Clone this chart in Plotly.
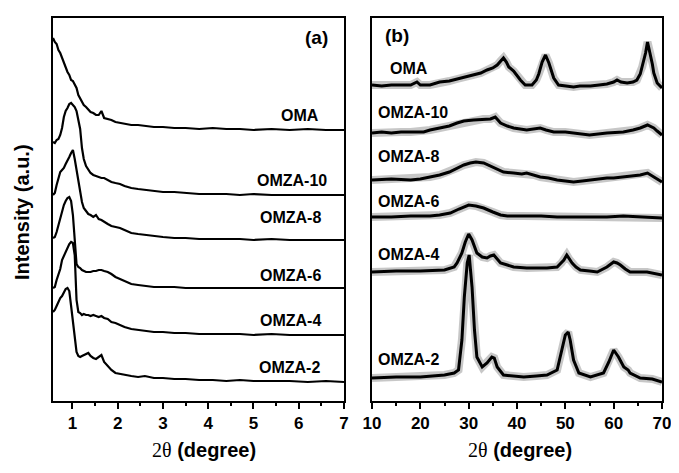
import plotly.graph_objects as go

# sample names (top to bottom)
names = ["OMA", "OMZA-10", "OMZA-8", "OMZA-6", "OMZA-4", "OMZA-2"]

# ---- panel (a): low angle XRD ----
xa = [0.57, 0.61, 0.65, 0.69, 0.73, 0.77, 0.81, 0.85, 0.89, 0.93,
      0.97, 1.01, 1.05, 1.09, 1.13, 1.17, 1.21, 1.25, 1.30, 1.35,
      1.40, 1.46, 1.52, 1.58, 1.64, 1.70, 1.78, 1.86, 1.95, 2.05,
      2.15, 2.3, 2.45, 2.6, 2.8, 3.0, 3.25, 3.5, 3.8, 4.1,
      4.4, 4.7, 5.0, 5.4, 5.8, 6.2, 6.6, 7.0]

oma_a = [92, 88, 86, 80, 77, 72, 68, 63, 58, 55,
         50, 49, 46, 42, 35, 32, 29, 25, 23, 20,
         18, 17, 15, 15, 19, 12, 11, 10, 8, 7,
         6, 5, 5, 4, 3, 3, 2, 2, 1, 2,
         1, 1, 0, 1, 0, 1, 0, 0]
omza10_a = [53, 52, 55, 56, 60, 67, 78, 84, 87, 91,
            92, 90, 88, 84, 75, 66, 47, 36, 29, 25,
            22, 20, 19, 18, 17, 17, 15, 13, 12, 11,
            9, 7, 6, 5, 4, 3, 3, 2, 1, 1,
            1, 0, 1, 0, 0, 0, 0, 0]
omza8_a = [45, 47, 55, 62, 68, 70, 72, 76, 79, 83,
           87, 90, 81, 70, 60, 48, 38, 32, 29, 26,
           25, 23, 25, 21, 20, 18, 16, 14, 13, 12,
           10, 7, 6, 5, 4, 3, 2, 2, 1, 1,
           1, 1, 0, 1, 0, 0, 0, 0]
omza6_a = [50, 51, 56, 63, 70, 77, 83, 87, 90, 91,
           87, 73, 43, 24, 21, 20, 18, 17, 16, 16,
           16, 17, 17, 18, 18, 17, 16, 14, 11, 9,
           7, 4, 3, 2, 1, 1, 1, 0, 0, 0,
           0, 0, 0, 0, 0, 0, 0, 0]
omza4_a = [47, 48, 55, 61, 66, 75, 79, 84, 87, 91,
           93, 92, 80, 35, 23, 22, 20, 21, 20, 20,
           19, 20, 19, 18, 19, 17, 16, 13, 12, 10,
           8, 6, 5, 4, 3, 3, 2, 2, 1, 1,
           1, 1, 0, 1, 0, 0, 0, 0]
omza2_a = [70, 72, 76, 80, 84, 86, 89, 93, 94, 91,
           76, 60, 45, 30, 26, 25, 26, 27, 28, 29,
           26, 24, 23, 25, 27, 20, 16, 12, 9, 8,
           7, 6, 5, 6, 4, 4, 3, 3, 2, 2,
           1, 2, 1, 1, 1, 0, 1, 0]
offsets_a = [271, 206, 161, 113, 66, 19]

# ---- panel (b): wide angle XRD ----
oma_bx = [10, 12, 14, 16, 18, 19.3, 20, 22, 24, 26, 27.6, 29, 31, 32.5, 33.8,
          35, 35.9, 36.6, 37.2, 37.8, 38.3, 39.3, 40, 40.7, 41.7, 43.1, 44, 44.5,
          45.2, 45.9, 46.6, 47.2, 47.6, 48.6, 50, 51.7, 53, 55.2, 57, 58.6, 60,
          60.7, 61.5, 62.8, 64, 64.8, 65.5, 65.9, 66.3, 66.6, 67, 67.3, 67.6, 68,
          68.3, 69, 70]
oma_b = [1, 0, 1, 1, 1, 4, 1, 1, 4, 5, 7, 8, 11, 13, 16,
         18, 21, 25, 28, 24, 19, 15, 10, 6, 1, 1, 6, 12,
         24, 31, 23, 13, 8, 1, 0, -1, 0, 0, 1, 2, 4,
         6, 4, 3, 4, 6, 12, 19, 27, 33, 44, 38, 32, 22,
         13, 3, -2]
omza10_bx = [10, 12, 14, 16, 18, 20.7, 22, 24, 26, 27.6, 29, 31, 33, 34.5, 35.5,
             36.6, 38, 39.3, 42, 44.8, 46, 47.6, 50, 51.7, 55, 58.6, 62, 64, 65.5,
             67, 68.3, 69, 70]
omza10_b = [0, 1, 0, 1, 1, 1, 3, 5, 7, 10, 12, 13, 14, 14, 16,
            10, 7, 5, 3, 5, 3, 1, 1, 0, -2, 0, 1, 3, 5,
            8, 5, 2, -2]
omza8_bx = [10, 14, 18, 20, 22, 24, 26, 27.6, 29, 30.3, 31.5, 33.1, 34, 35.2, 37.2,
            39.3, 41, 42, 43.5, 44.8, 46.5, 48.3, 50, 51.7, 53.5, 55.2, 57, 58.6, 60,
            62, 64, 65.5, 67, 68.3, 69.2, 70]
omza8_b = [0, 1, 0, 1, 3, 5, 8, 12, 15, 17, 18, 17, 15, 13, 8,
           7, 6, 7, 5, 3, 2, 0, -1, -2, -1, 0, 1, 2, 2,
           3, 4, 5, 7, 3, 1, -2]
omza6_bx = [10, 14, 18, 20, 22, 24, 26.2, 28, 29, 30, 31.5, 33.1, 35, 36.6, 38,
            41.4, 45, 48.3, 52, 55, 58.6, 62, 66, 70]
omza6_b = [0, 0, 1, 1, 1, 2, 4, 8, 10, 12, 11, 9, 5, 2, 1,
           1, 1, 0, 0, 0, 0, 1, 0, -1]
omza4_bx = [10, 15, 20, 25, 27, 27.6, 28.6, 29.3, 30, 30.7, 31.7, 32.8, 33.8, 34.5,
            35.2, 35.9, 36.6, 38, 39.3, 42, 46.2, 48.3, 49.2, 49.7, 50.3, 50.8, 51.4,
            52.2, 53.1, 55, 56.6, 58.6, 59.4, 60, 60.7, 61.4, 62.4, 63.4, 66.9, 70]
omza4_b = [0, 1, 1, 2, 5, 9, 19, 30, 38, 32, 19, 15, 14, 16,
           17, 13, 9, 7, 5, 4, 4, 5, 9, 12, 17, 13, 9,
           5, 2, 1, 0, 5, 8, 10, 9, 7, 3, 0, 0, -3]
omza2_bx = [10, 15, 20, 25, 27, 27.9, 28.6, 29.1, 29.7, 30.1, 30.7, 31.2, 31.7, 32.8,
            33.8, 34.8, 35.3, 35.9, 37.2, 39, 41.4, 44, 46.2, 48.3, 49.3, 50, 50.6,
            51, 51.7, 52.8, 55.2, 57.9, 59, 60, 61, 62.1, 63, 63.4, 65.5, 68, 70]
omza2_b = [0, 1, 1, 3, 5, 8, 38, 81, 115, 123, 91, 48, 21, 11,
           15, 21, 20, 11, 3, 2, 1, 2, 3, 8, 28, 43, 46,
           38, 18, 5, 1, 5, 16, 28, 21, 11, 8, 5, 0, -1, -4]
offsets_b = [315, 268, 221, 184, 129, 23]

# page body has an 8px margin, so the figure is drawn 8px in and kept smaller
PAD = 8
W, H = 679 - PAD - 2, 473 - 2 * PAD


def fx(p):
    return (p - PAD) / W


def fy(p):
    return 1 - (p - PAD) / H


fig = go.Figure()

for name, vals, off in zip(names, [oma_a, omza10_a, omza8_a, omza6_a, omza4_a, omza2_a], offsets_a):
    fig.add_trace(go.Scatter(x=xa, y=[v + off for v in vals], mode="lines", name=name,
                             line=dict(color="black", width=2.2), xaxis="x", yaxis="y",
                             showlegend=False))

bx = [oma_bx, omza10_bx, omza8_bx, omza6_bx, omza4_bx, omza2_bx]
by = [oma_b, omza10_b, omza8_b, omza6_b, omza4_b, omza2_b]
for name, xs, vals, off in zip(names, bx, by, offsets_b):
    ys = [v + off for v in vals]
    # grey fuzz round the noisy pattern, then the dark core
    fig.add_trace(go.Scatter(x=xs, y=ys, mode="lines", line=dict(color="rgba(0,0,0,0.22)", width=8),
                             xaxis="x2", yaxis="y2", showlegend=False, hoverinfo="skip"))
    fig.add_trace(go.Scatter(x=xs, y=ys, mode="lines", name=name, line=dict(color="black", width=3),
                             xaxis="x2", yaxis="y2", showlegend=False))

tickfont = dict(family="Liberation Sans", size=17, color="black", weight="bold")
ax = dict(showline=True, linecolor="black", linewidth=2, mirror=True, ticks="outside",
          ticklen=6, tickwidth=1.5, tickcolor="black", showgrid=False, zeroline=False,
          tickfont=tickfont, automargin=False, ticklabeloverflow="allow")
yax = dict(showline=True, linecolor="black", linewidth=2, mirror=True, ticks="",
           showticklabels=False, showgrid=False, zeroline=False, range=[0, 383])

fig.update_layout(
    width=W, height=H, margin=dict(l=0, r=0, t=0, b=0),
    paper_bgcolor="white", plot_bgcolor="white",
    xaxis=dict(ax, domain=[fx(53), fx(344)], range=[0.57, 7], tickvals=[1, 2, 3, 4, 5, 6, 7],
               minor=dict(ticks="outside", dtick=0.5, tick0=0.5, ticklen=3, tickwidth=1.5, tickcolor="black"),
               anchor="y"),
    yaxis=dict(yax, domain=[fy(401), fy(18)], anchor="x"),
    xaxis2=dict(ax, domain=[fx(372), fx(662)], range=[10, 70], dtick=10,
                minor=dict(ticks="outside", dtick=5, ticklen=3, tickwidth=1.5, tickcolor="black"),
                anchor="y2"),
    yaxis2=dict(yax, domain=[fy(401), fy(18)], anchor="x2"),
)

lab = dict(family="Liberation Sans", size=16, color="black")
ann = []
labels_a = [("OMA", 300, 115), ("OMZA-10", 292, 180), ("OMZA-8", 290, 218),
            ("OMZA-6", 290, 275), ("OMZA-4", 290, 320), ("OMZA-2", 289, 367)]
for t, x, y in labels_a:
    ann.append(dict(text="<b>%s</b>" % t, x=fx(x), y=fy(y), xref="paper", yref="paper",
                    showarrow=False, font=lab, xanchor="center", yanchor="middle"))
labels_b = [("OMA", 388, 69), ("OMZA-10", 376, 112), ("OMZA-8", 376, 157),
            ("OMZA-6", 376, 201), ("OMZA-4", 376, 254), ("OMZA-2", 376, 359)]
for t, x, y in labels_b:
    ann.append(dict(text="<b>%s</b>" % t, x=fx(x), y=fy(y), xref="paper", yref="paper",
                    showarrow=False, font=lab, xanchor="left", yanchor="middle"))

big = dict(family="Liberation Sans", size=19, color="black")
ann.append(dict(text="<b>(a)</b>", x=fx(316), y=fy(37), xref="paper", yref="paper",
                showarrow=False, font=big, xanchor="center", yanchor="middle"))
ann.append(dict(text="<b>(b)</b>", x=fx(383), y=fy(36), xref="paper", yref="paper",
                showarrow=False, font=big, xanchor="left", yanchor="middle"))

xtitle = "<span style='font-family:Liberation Serif;font-weight:normal'>2θ</span> <b>(degree)</b>"
for cx in [204, 520]:
    ann.append(dict(text=xtitle, x=fx(cx), y=fy(450), xref="paper", yref="paper",
                    showarrow=False, font=dict(family="Liberation Sans", size=20, color="black"),
                    xanchor="center", yanchor="middle"))
ann.append(dict(text="<b>Intensity (a.u.)</b>", x=fx(22), y=fy(212), xref="paper", yref="paper",
                showarrow=False, textangle=-90, font=dict(family="Liberation Sans", size=20, color="black"),
                xanchor="center", yanchor="middle"))

fig.update_layout(annotations=ann)
fig.write_html("out.html")
